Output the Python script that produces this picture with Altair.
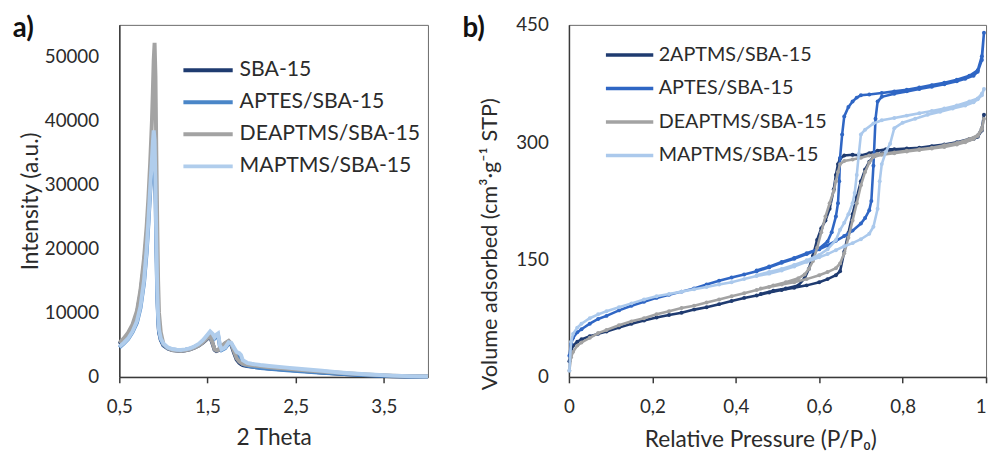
import altair as alt
import pandas as pd

FONT = "Lato"
TXT = "#2b2b2b"

# ---------------- panel a) : XRD ----------------
series_a = ["SBA-15", "APTES/SBA-15", "DEAPTMS/SBA-15", "MAPTMS/SBA-15"]
colors_a = ["#1f3b70", "#4a86c8", "#a3a3a3", "#b0cdec"]

two_theta = [0.50, 0.55, 0.60, 0.65, 0.70, 0.74, 0.78, 0.81, 0.83, 0.85,
             0.87, 0.88, 0.89, 0.90, 0.91, 0.92, 0.93, 0.94, 0.95, 0.97,
             1.00, 1.05, 1.10, 1.15, 1.20, 1.25, 1.30, 1.35, 1.40, 1.45,
             1.50, 1.53, 1.56, 1.58, 1.60, 1.62, 1.64, 1.66, 1.70, 1.74,
             1.77, 1.80, 1.83, 1.86, 1.88, 1.90, 1.95, 2.00, 2.10, 2.20,
             2.40, 2.60, 2.80, 3.00, 3.20, 3.40, 3.60, 3.80, 4.00]

int_sba = [5100, 5800, 6700, 7900, 9900, 13000, 17500, 22000, 26000, 30000,
           33500, 35000, 36000, 35500, 31000, 24000, 15000, 9500, 7000, 5800,
           4900, 4450, 4200, 4100, 4050, 4150, 4300, 4550, 4900, 5400,
           6000, 6300, 5100, 4250, 4050, 4150, 4450, 4750, 5200, 5500,
           5000, 3800, 2700, 2200, 2000, 1850, 1700, 1600, 1450, 1300,
           1100, 900, 700, 500, 330, 200, 110, 50, 20]

int_aptes = [4600, 5200, 5900, 7000, 8500, 10800, 14700, 19500, 24000, 29000,
             33000, 35500, 37000, 36000, 29000, 20000, 13000, 9200, 7200, 5900,
             5000, 4500, 4300, 4200, 4150, 4250, 4400, 4650, 5000, 5600,
             6400, 6800, 6500, 6000, 6300, 6500, 4800, 4200, 4500, 5200,
             5100, 4300, 3500, 3000, 2600, 2000, 1750, 1600, 1400, 1250,
             1050, 850, 650, 480, 330, 220, 130, 70, 30]

int_deaptms = [5300, 6000, 6900, 8200, 10300, 13600, 18500, 23500, 28000, 33500,
               40000, 44500, 49500, 52200, 47000, 34600, 24000, 15000, 10000, 7000,
               5100, 4500, 4200, 4100, 4050, 4150, 4300, 4550, 4900, 5400,
               6100, 6400, 5200, 4300, 4100, 4200, 4500, 4800, 5300, 5650,
               5200, 4000, 2900, 2400, 2200, 2050, 1900, 1800, 1650, 1500,
               1250, 1050, 850, 650, 450, 320, 200, 120, 60]

int_maptms = [4700, 5300, 6000, 7100, 8700, 11000, 15000, 20000, 24500, 29500,
              34000, 36500, 38500, 37000, 30000, 21000, 13500, 9500, 7400, 6000,
              5200, 4600, 4350, 4250, 4200, 4300, 4450, 4750, 5150, 5750,
              6600, 7100, 6700, 6200, 6600, 6800, 5000, 4300, 4600, 5400,
              5300, 4600, 3900, 3700, 3400, 2600, 2200, 2050, 1850, 1700,
              1450, 1200, 950, 700, 500, 330, 200, 110, 50]

x_ticks_a = [0.5, 1.5, 2.5, 3.5]
y_ticks_a = [0, 10000, 20000, 30000, 40000, 50000]

rows = []
for name, ys in zip(series_a, [int_sba, int_aptes, int_deaptms, int_maptms]):
    for x, y in zip(two_theta, ys):
        rows.append({"sample_a": name, "theta": x, "intensity": y})
df_a = pd.DataFrame(rows)

# ---------------- panel b) : N2 isotherms ----------------
series_b = ["2APTMS/SBA-15", "APTES/SBA-15", "DEAPTMS/SBA-15", "MAPTMS/SBA-15"]
colors_b = ["#1f3b70", "#2f66c4", "#a3a3a3", "#abc9ec"]

p_ads_2aptms = [0.001, 0.005, 0.01, 0.02, 0.03, 0.05, 0.07, 0.09, 0.12, 0.15,
                0.18, 0.21, 0.24, 0.27, 0.30, 0.33, 0.36, 0.39, 0.42, 0.45,
                0.48, 0.51, 0.54, 0.57, 0.60, 0.62, 0.64, 0.65, 0.66, 0.67,
                0.68, 0.69, 0.70, 0.71, 0.72, 0.73, 0.75, 0.78, 0.81, 0.84,
                0.87, 0.90, 0.93, 0.95, 0.97, 0.98, 0.99, 0.995]
v_ads_2aptms = [20, 33, 40, 45, 48, 52, 55, 58, 63, 68,
                72, 76, 79, 82, 86, 89, 93, 97, 101, 104,
                108, 111, 114, 117, 121, 125, 130, 135, 160, 184,
                208, 230, 250, 265, 275, 281, 286, 289, 290, 292,
                294, 296, 299, 301, 304, 307, 315, 335]
p_des_2aptms = [0.99, 0.98, 0.96, 0.93, 0.90, 0.87, 0.84, 0.81, 0.78, 0.76,
                0.74, 0.72, 0.70, 0.68, 0.66, 0.65, 0.645, 0.64, 0.635, 0.625,
                0.615, 0.605, 0.595, 0.585, 0.575, 0.565, 0.55, 0.52, 0.49, 0.46]
v_des_2aptms = [318, 308, 304, 300, 297, 295, 293, 292, 291, 291,
                289, 286, 283, 284, 283, 279, 272, 258, 240, 215,
                200, 190, 175, 155, 138, 126, 117, 113, 110, 106]

p_ads_aptes = [0.001, 0.005, 0.01, 0.02, 0.03, 0.05, 0.07, 0.09, 0.12, 0.15,
               0.18, 0.21, 0.24, 0.27, 0.30, 0.33, 0.36, 0.39, 0.42, 0.45,
               0.48, 0.51, 0.54, 0.57, 0.60, 0.62, 0.64, 0.66, 0.68, 0.70,
               0.71, 0.72, 0.725, 0.73, 0.735, 0.74, 0.75, 0.78, 0.81, 0.84,
               0.87, 0.90, 0.93, 0.95, 0.97, 0.98, 0.99, 0.995]
v_ads_aptes = [27, 42, 50, 57, 61, 68, 74, 78, 85, 91,
               96, 101, 105, 109, 113, 118, 123, 127, 131, 135,
               140, 146, 151, 157, 163, 168, 174, 180, 187, 196,
               203, 213, 225, 270, 330, 352, 358, 362, 365, 368,
               371, 374, 378, 381, 385, 390, 405, 440]
p_des_aptes = [0.99, 0.98, 0.96, 0.93, 0.90, 0.87, 0.84, 0.81, 0.78, 0.75,
               0.72, 0.70, 0.69, 0.68, 0.67, 0.66, 0.655, 0.65, 0.648, 0.645,
               0.64, 0.63, 0.62, 0.60, 0.57, 0.54, 0.51, 0.48, 0.45]
v_des_aptes = [410, 392, 385, 380, 376, 373, 370, 367, 365, 363,
               361, 360, 357, 352, 345, 333, 310, 280, 250, 222,
               205, 185, 173, 164, 158, 152, 147, 141, 136]

p_ads_deaptms = list(p_ads_2aptms)
v_ads_deaptms = [8, 25, 32, 40, 44, 50, 56, 60, 66, 71,
                 75, 80, 84, 88, 91, 95, 99, 103, 107, 111,
                 115, 118, 121, 125, 130, 134, 139, 145, 158, 178,
                 200, 222, 245, 262, 274, 281, 284, 286, 288, 290,
                 292, 294, 297, 300, 304, 308, 316, 330]
p_des_deaptms = list(p_des_2aptms)
v_des_deaptms = [318, 309, 304, 299, 296, 293, 291, 289, 287, 286,
                 285, 283, 280, 278, 276, 272, 262, 250, 238, 222,
                 205, 185, 165, 148, 138, 131, 126, 121, 117, 113]

p_ads_maptms = [0.001, 0.005, 0.01, 0.02, 0.03, 0.05, 0.07, 0.09, 0.12, 0.15,
                0.18, 0.21, 0.24, 0.27, 0.30, 0.33, 0.36, 0.39, 0.42, 0.45,
                0.48, 0.51, 0.54, 0.57, 0.60, 0.62, 0.64, 0.66, 0.68, 0.70,
                0.72, 0.73, 0.74, 0.745, 0.75, 0.76, 0.77, 0.78, 0.80, 0.83,
                0.86, 0.89, 0.92, 0.95, 0.97, 0.98, 0.99, 0.995]
v_ads_maptms = [8, 45, 55, 63, 68, 75, 80, 84, 89, 94,
                99, 103, 106, 109, 112, 115, 118, 121, 125, 129,
                132, 136, 141, 147, 153, 157, 162, 167, 171, 176,
                183, 192, 215, 250, 272, 288, 298, 318, 325, 330,
                335, 339, 343, 347, 351, 355, 360, 368]
p_des_maptms = [0.99, 0.98, 0.96, 0.93, 0.90, 0.87, 0.84, 0.81, 0.78, 0.75,
                0.73, 0.71, 0.70, 0.695, 0.69, 0.685, 0.68, 0.67, 0.66, 0.65,
                0.64, 0.62, 0.60, 0.57, 0.54, 0.51, 0.48, 0.45]
v_des_maptms = [362, 356, 352, 347, 343, 340, 337, 334, 331, 328,
                324, 316, 310, 285, 258, 235, 222, 208, 197, 188,
                175, 163, 156, 149, 143, 138, 134, 130]

x_ticks_b = [0, 0.2, 0.4, 0.6, 0.8, 1.0]
y_ticks_b = [0, 150, 300, 450]

branches = {
    "2APTMS/SBA-15": (p_ads_2aptms, v_ads_2aptms, p_des_2aptms, v_des_2aptms),
    "APTES/SBA-15": (p_ads_aptes, v_ads_aptes, p_des_aptes, v_des_aptes),
    "DEAPTMS/SBA-15": (p_ads_deaptms, v_ads_deaptms, p_des_deaptms, v_des_deaptms),
    "MAPTMS/SBA-15": (p_ads_maptms, v_ads_maptms, p_des_maptms, v_des_maptms),
}
rows = []
for name in series_b:
    pa, va, pd_, vd = branches[name]
    ps = list(pa) + list(pd_)
    vs = list(va) + list(vd)
    for i, (p, v) in enumerate(zip(ps, vs)):
        rows.append({"sample_b": name, "p": p, "v": v, "idx": i})
df_b = pd.DataFrame(rows)

LEG_PATH = "M-2.5,0H2.5"

# ---------------- encodings a ----------------
x_a = alt.X("theta:Q",
            scale=alt.Scale(domain=[0.5, 4.0], nice=False, zero=False),
            axis=alt.Axis(values=x_ticks_a, title="2 Theta",
                          labelExpr="replace(format(datum.value, '.1f'), '.', ',')",
                          labelFlush=False, tickSize=6, labelPadding=15,
                          titleY=74, titleBaseline="bottom",
                          titleFontSize=23))
y_a = alt.Y("intensity:Q",
            scale=alt.Scale(domain=[0, 55000], nice=False),
            axis=alt.Axis(values=y_ticks_a, format="d", title="Intensity (a.u.)",
                          tickSize=0, labelPadding=21, titleX=-90,
                          titleBaseline="middle", titleFontSize=23))
color_a = alt.Color("sample_a:N",
                    scale=alt.Scale(domain=series_a, range=colors_a),
                    legend=alt.Legend(title=None, orient="none", legendX=78, legendY=34,
                                      symbolType=LEG_PATH, symbolSize=400,
                                      symbolStrokeWidth=4, labelOffset=20,
                                      labelFontSize=21.5, labelFont=FONT,
                                      labelColor=TXT, rowPadding=9.5, padding=0,
                                      labelLimit=400))

layers_a = []
for s in series_a:
    layers_a.append(
        alt.Chart(df_a).transform_filter(alt.datum.sample_a == s)
        .mark_line(strokeWidth=4)
        .encode(x=x_a, y=y_a, color=color_a)
    )
tag_a = alt.Chart(pd.DataFrame({"t": ["a)"]})).mark_text(
    font=FONT, fontSize=28, fontWeight="bold", align="left",
    baseline="top", color="#111").encode(
    text="t:N", x=alt.value(-108), y=alt.value(-10))
panel_a = alt.layer(*layers_a, tag_a).properties(width=313, height=357)

# ---------------- encodings b ----------------
x_b = alt.X("p:Q",
            scale=alt.Scale(domain=[0, 1], nice=False),
            axis=alt.Axis(values=x_ticks_b, title="Relative Pressure (P/P₀)",
                          labelExpr="datum.value == 0 ? '0' : datum.value >= 0.999 ? '1' : replace(format(datum.value, '.1f'), '.', ',')",
                          labelFlush=False,
                          labelAlign={"condition": {"test": "datum.value >= 0.999", "value": "right"}, "value": "center"},
                          tickSize=6, labelPadding=15,
                          titleX=194, titleY=76, titleBaseline="bottom",
                          titleFontSize=23))
y_b = alt.Y("v:Q",
            scale=alt.Scale(domain=[0, 450], nice=False),
            axis=alt.Axis(values=y_ticks_b, title="Volume adsorbed (cm³·g⁻¹ STP)",
                          tickSize=0, labelPadding=21, titleX=-80, titleY=222,
                          titleBaseline="middle", titleFontSize=22))
color_b = alt.Color("sample_b:N",
                    scale=alt.Scale(domain=series_b, range=colors_b),
                    legend=alt.Legend(title=None, orient="none", legendX=50, legendY=19,
                                      symbolType=LEG_PATH, symbolSize=369,
                                      symbolStrokeWidth=3.5, labelOffset=18,
                                      labelFontSize=20, labelFont=FONT,
                                      labelColor=TXT, rowPadding=12, padding=0,
                                      labelLimit=400))

layers_b = []
for s in series_b:
    layers_b.append(
        alt.Chart(df_b).transform_filter(alt.datum.sample_b == s)
        .mark_line(strokeWidth=2.6,
                   point=alt.OverlayMarkDef(filled=True, size=16))
        .encode(x=x_b, y=y_b, color=color_b, order=alt.Order("idx:Q"))
    )
tag_b = alt.Chart(pd.DataFrame({"t": ["b)"]})).mark_text(
    font=FONT, fontSize=28, fontWeight="bold", align="left",
    baseline="top", color="#111").encode(
    text="t:N", x=alt.value(-108), y=alt.value(-10))
panel_b = alt.layer(*layers_b, tag_b).properties(width=423, height=357)

chart = (
    alt.hconcat(panel_a, panel_b, spacing=25)
    .resolve_scale(color="independent")
    .properties(padding={"left": 12, "top": 11, "right": 0, "bottom": 0},
                background="white")
    .configure_view(stroke="#6a6a6a", strokeWidth=1)
    .configure_axis(labelFont=FONT, titleFont=FONT, labelFontSize=19,
                    labelColor=TXT, titleColor=TXT, titleFontWeight="normal",
                    grid=False, domainColor="#3a3a3a", domainWidth=1.5,
                    tickColor="#3a3a3a", tickWidth=1.5)
)

chart.save("out.html", embed_options={"renderer": "svg", "actions": False})
